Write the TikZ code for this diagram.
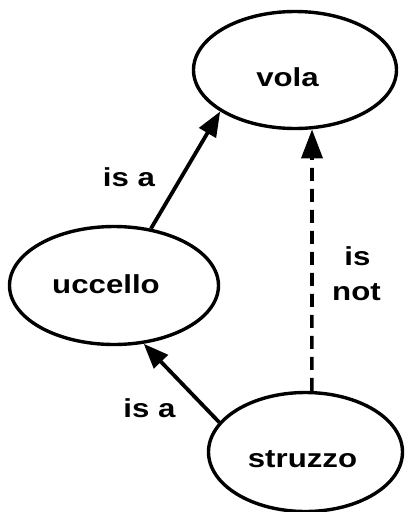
\documentclass[tikz,border=0pt]{standalone}
\usepackage{fontspec}
\newfontfamily\labfont[FakeStretch=1.2]{Liberation Sans}
\usetikzlibrary{shapes.geometric,arrows.meta}
\begin{document}
\begin{tikzpicture}[x=1pt,y=-1pt,
  concept/.style={draw,ellipse,line width=3.4pt,inner sep=0pt},
  txt/.style={anchor=base,inner sep=0pt,font=\labfont\bfseries\fontsize{26}{30}\selectfont},
  rel/.style={line width=3.8pt,-{Triangle[length=25pt,width=19pt]}},
  notrel/.style={line width=3.6pt,dash pattern=on 13pt off 8pt,-{Triangle[length=29pt,width=21pt]}}]
\useasboundingbox (0,0) rectangle (406,512);
\node[concept,minimum width=203pt,minimum height=117pt] (vola) at (295,70) {};
\node[concept,minimum width=209pt,minimum height=118pt] (ucc) at (114,285.5) {};
\node[concept,minimum width=194pt,minimum height=119pt] (str) at (305.5,452) {};
\node[txt] (tvola) at (287.5,86) {vola};
\node[txt] (tucc) at (106,293) {uccello};
\node[txt] (tstr) at (302.5,467) {struzzo};
\node[txt] (l1) at (129,186) {is a};
\node[txt] (l2) at (357.5,265) {is};
\node[txt] (l3) at (356.5,300) {not};
\node[txt] (l4) at (149.5,417) {is a};
\draw[rel] (ucc.57) -- (vola.209);
\draw[rel] (str.161.7) -- (ucc.297.6);
\draw[notrel] (str.84) -- (vola.286);
\end{tikzpicture}
\end{document}
